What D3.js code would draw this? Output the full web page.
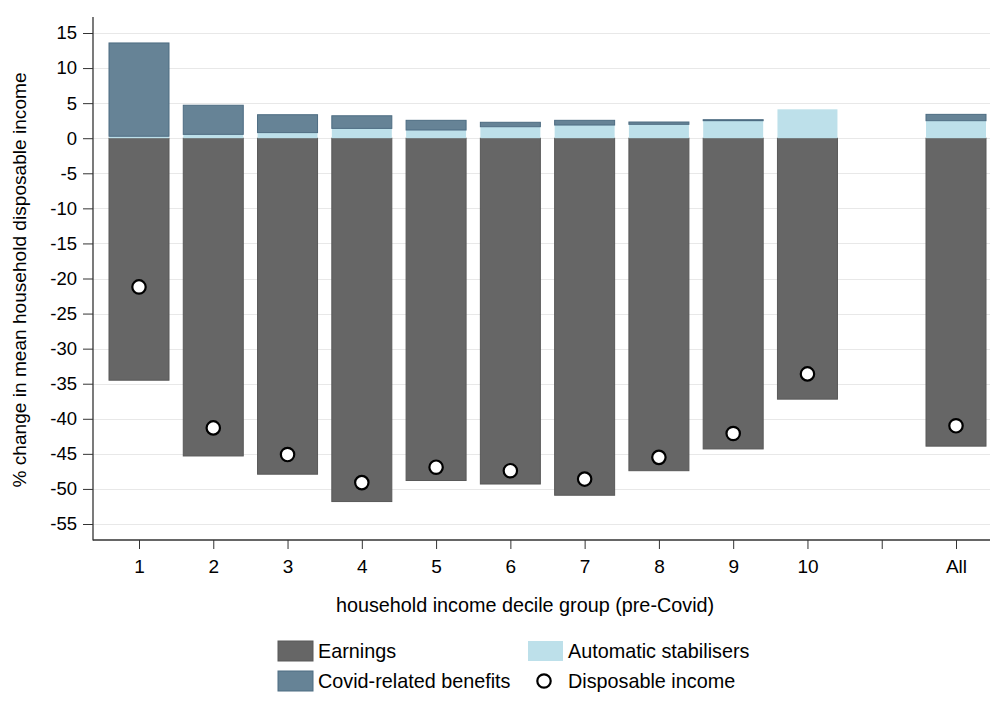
<!DOCTYPE html>
<html><head><meta charset="utf-8">
<script src="https://cdn.jsdelivr.net/npm/d3@7"></script>
<style>body{margin:0;background:#fff}svg text{font-family:Arial,"Liberation Sans",sans-serif;fill:#000}</style>
</head><body><svg id="c" width="995" height="716"></svg>
<script>
const categories = ["1","2","3","4","5","6","7","8","9","10","","All"];
const positions = [1,2,3,4,5,6,7,8,9,10,11,12];
const earnings = [-34.5,-45.3,-47.9,-51.8,-48.8,-49.3,-50.9,-47.4,-44.3,-37.2,null,-43.9];
const autoStab = [0.28,0.55,0.8,1.4,1.17,1.64,1.88,1.98,2.5,4.12,null,2.5];
const covidBen = [13.3,4.15,2.55,1.8,1.38,0.63,0.67,0.33,0.14,0.0,null,0.9];
const dispInc = [-21.2,-41.3,-45.1,-49.1,-46.9,-47.4,-48.6,-45.5,-42.1,-33.6,null,-41.0];
const yTicks = d3.range(-55,16,5);

(function(){
const svg = d3.select("#c");
const mLeft=93,mRight=990,mTop=17,mBottom=540;
const y = d3.scaleLinear().domain([-55,15]).range([524,33]);
const x = d3.scaleLinear().domain([1,12]).range([139,956]);
const bw = 60;
const FF = "Arial, 'Liberation Sans', sans-serif";

// grid
svg.append("g").selectAll("line").data(yTicks).join("line")
  .attr("x1",mLeft).attr("x2",mRight).attr("y1",d=>Math.round(y(d))+0.5).attr("y2",d=>Math.round(y(d))+0.5)
  .attr("stroke","#e8e8e8").attr("stroke-width",1);

const data = positions.map((p,i)=>({p,e:earnings[i],a:autoStab[i],c:covidBen[i],d:dispInc[i]})).filter(d=>d.e!==null);

// earnings
svg.append("g").selectAll("rect").data(data).join("rect")
  .attr("x",d=>x(d.p)-bw/2).attr("width",bw)
  .attr("y",y(0)).attr("height",d=>y(d.e)-y(0))
  .attr("fill","#666666").attr("stroke","#585858").attr("stroke-width",1);
// auto stabilisers
svg.append("g").selectAll("rect").data(data).join("rect")
  .attr("x",d=>x(d.p)-bw/2).attr("width",bw)
  .attr("y",d=>y(d.a)).attr("height",d=>y(0)-y(d.a))
  .attr("fill","#bde0ea");
// covid
svg.append("g").selectAll("rect").data(data.filter(d=>d.c>0)).join("rect")
  .attr("x",d=>x(d.p)-bw/2).attr("width",bw)
  .attr("y",d=>y(d.a+d.c)).attr("height",d=>y(d.a)-y(d.a+d.c))
  .attr("fill","#668396").attr("stroke","#4d6c82").attr("stroke-width",1);
// circles
svg.append("g").selectAll("circle").data(data).join("circle")
  .attr("cx",d=>x(d.p)).attr("cy",d=>y(d.d)).attr("r",6.7)
  .attr("fill","#fff").attr("stroke","#000").attr("stroke-width",2.2);

// y axis
const ya = d3.axisLeft(y).tickValues(yTicks).tickSize(10).tickPadding(6).tickFormat(d=>String(d));
const gy = svg.append("g").attr("transform",`translate(${mLeft},0)`).call(ya);
gy.select(".domain").remove();
gy.attr("font-size",null).attr("font-family",null);
gy.selectAll("text").attr("font-size",18.5).style("font-family",FF);
gy.selectAll(".tick line").attr("stroke","#333");
svg.append("line").attr("x1",mLeft).attr("x2",mLeft).attr("y1",mTop).attr("y2",mBottom+0.5).attr("stroke","#333").attr("stroke-width",1.3);

// x axis
const xa = d3.axisBottom(x).tickValues(positions).tickFormat((d,i)=>categories[i]).tickSize(9).tickPadding(10.5);
const gx = svg.append("g").attr("transform",`translate(0,${mBottom})`).call(xa);
gx.select(".domain").remove();
gx.attr("font-size",null).attr("font-family",null);
gx.selectAll("text").attr("font-size",19).style("font-family",FF);
gx.selectAll(".tick line").attr("stroke","#333");
svg.append("line").attr("x1",mLeft).attr("x2",mRight).attr("y1",mBottom).attr("y2",mBottom).attr("stroke","#333").attr("stroke-width",1.3);

// titles
svg.append("text").attr("x",525).attr("y",612).attr("text-anchor","middle").attr("font-size",19.8)
  .text("household income decile group (pre-Covid)");
svg.append("text").attr("transform","translate(26,280) rotate(-90)").attr("text-anchor","middle").attr("font-size",19.1)
  .text("% change in mean household disposable income");

// legend
const lg = svg.append("g");
const items = [
  {t:"Earnings",x:278,y:651,type:"rect",fill:"#666666",stroke:"#585858"},
  {t:"Automatic stabilisers",x:528,y:651,type:"rect",fill:"#bde0ea",stroke:"none"},
  {t:"Covid-related benefits",x:278,y:681,type:"rect",fill:"#668396",stroke:"#4d6c82"},
  {t:"Disposable income",x:528,y:681,type:"circle"}
];
items.forEach(it=>{
  if(it.type==="rect"){
    lg.append("rect").attr("x",it.x).attr("y",it.y-10).attr("width",35).attr("height",20)
      .attr("fill",it.fill).attr("stroke",it.stroke);
  } else {
    lg.append("circle").attr("cx",it.x+16).attr("cy",it.y).attr("r",6.7)
      .attr("fill","#fff").attr("stroke","#000").attr("stroke-width",2.2);
  }
  lg.append("text").attr("x",it.x+40).attr("y",it.y+7).attr("font-size",19.8).text(it.t);
});
})();
</script></body></html>
